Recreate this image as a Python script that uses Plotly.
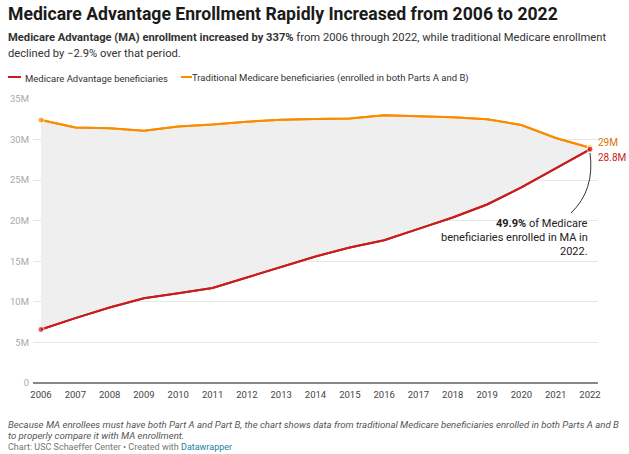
import plotly.graph_objects as go

years = list(range(2006, 2023))
ma_values = [6.6, 8.0, 9.3, 10.45, 11.05, 11.7, 13.0, 14.3, 15.6, 16.7, 17.6, 19.0, 20.4, 22.0, 24.1, 26.45, 28.8]
tm_values = [32.4, 31.5, 31.4, 31.1, 31.6, 31.85, 32.2, 32.45, 32.55, 32.6, 33.0, 32.9, 32.75, 32.5, 31.8, 30.2, 29.0]
y_ticks = [0, 5, 10, 15, 20, 25, 30, 35]
y_tick_labels = ["0", "5M", "10M", "15M", "20M", "25M", "30M", "35M"]

RED = "#c71e1d"
ORANGE = "#fa8c00"
FONT = "Roboto"

W, H = 629, 454
L, R, T, B = 33, 31, 99, 71
PW, PH = W - L - R, H - T - B


def px(x):
    return (x - L) / PW


def py(y):
    return (H - B - y) / PH


end_sizes = [6] + [0] * (len(years) - 2) + [6]

fig = go.Figure()
fig.add_trace(go.Scatter(x=years, y=tm_values, mode="lines",
                         line=dict(color=ORANGE, width=2),
                         showlegend=False, hoverinfo="skip"))
fig.add_trace(go.Scatter(x=years, y=ma_values, mode="lines",
                         line=dict(color=RED, width=2),
                         fill="tonexty", fillcolor="#efefef",
                         showlegend=False, hoverinfo="skip"))
fig.add_trace(go.Scatter(x=years, y=tm_values, mode="lines+markers",
                         line=dict(color=ORANGE, width=2),
                         marker=dict(size=end_sizes, color=ORANGE),
                         showlegend=False, hoverinfo="skip"))
fig.add_trace(go.Scatter(x=years, y=ma_values, mode="lines+markers",
                         line=dict(color=RED, width=2),
                         marker=dict(size=end_sizes, color=RED),
                         showlegend=False, hoverinfo="skip"))

ann = []


def text(x, y, s, size=12, color="#333", xanchor="left", bold=False, italic=False):
    if bold:
        s = "<b>" + s + "</b>"
    if italic:
        s = "<i>" + s + "</i>"
    ann.append(dict(x=px(x), y=py(y), xref="paper", yref="paper", text=s, showarrow=False,
                    xanchor=xanchor, yanchor="middle",
                    font=dict(family=FONT, size=size, color=color)))


text(6, 14, "Medicare Advantage Enrollment Rapidly Increased from 2006 to 2022", size=17.6, color="#1a1a1a", bold=True)
text(6, 38, "<b>Medicare Advantage (MA) enrollment increased by 337%</b> from 2006 through 2022, while traditional Medicare enrollment", size=11.2, color="#333")
text(6, 53, "declined by −2.9% over that period.", size=11.2, color="#333")
text(23, 78, "Medicare Advantage beneficiaries", size=9.5, color="#333")
text(190, 78, "Traditional Medicare beneficiaries (enrolled in both Parts A and B)", size=9.5, color="#333")
text(596, 142, "29M", size=10, color="#d97400")
text(596, 157, "28.8M", size=10, color=RED)
text(590, 223, "<b>49.9%</b> of Medicare", size=11, color="#222", xanchor="right")
text(590, 237, "beneficiaries enrolled in MA in", size=11, color="#222", xanchor="right")
text(590, 251, "2022.", size=11, color="#222", xanchor="right")
text(6, 424, "Because MA enrollees must have both Part A and Part B, the chart shows data from traditional Medicare beneficiaries enrolled in both Parts A and B", size=9.6, color="#555", italic=True)
text(6, 435, "to properly compare it with MA enrollment.", size=9.6, color="#555", italic=True)
text(6, 447, "Chart: USC Schaeffer Center • Created with <span style='color:#1d81a2'>Datawrapper</span>", size=9, color="#777")

shapes = [
    dict(type="line", xref="paper", yref="paper", x0=px(8), x1=px(21), y0=py(77), y1=py(77),
         line=dict(color=RED, width=2)),
    dict(type="line", xref="paper", yref="paper", x0=px(181), x1=px(192), y0=py(77), y1=py(77),
         line=dict(color=ORANGE, width=2)),
    dict(type="path", xref="paper", yref="paper",
         path=f"M {px(571)},{py(213)} Q {px(595)},{py(190)} {px(590)},{py(153)}",
         line=dict(color="#333", width=1)),
]

fig.update_layout(
    width=W, height=H,
    margin=dict(l=L, r=R, t=T, b=B, autoexpand=False),
    paper_bgcolor="white", plot_bgcolor="white",
    annotations=ann, shapes=shapes,
    xaxis=dict(range=[2005.767, 2022.233], tickmode="array", tickvals=years,
               ticktext=[str(y) for y in years], showgrid=False, zeroline=False,
               showline=False, ticks="", ticklabelstandoff=4,
               tickfont=dict(family=FONT, size=9.5, color="#444")),
    yaxis=dict(range=[0, 35], tickmode="array", tickvals=y_ticks, ticktext=y_tick_labels,
               showgrid=True, gridcolor="#e6e6e6", gridwidth=1, zeroline=True,
               zerolinecolor="#888", zerolinewidth=2, ticks="", ticklabelstandoff=3,
               tickfont=dict(family=FONT, size=9.5, color="#aaa")),
    hovermode=False,
)

fig.write_html("out.html", config={"displayModeBar": False},
               post_script="document.body.style.margin='0';")
